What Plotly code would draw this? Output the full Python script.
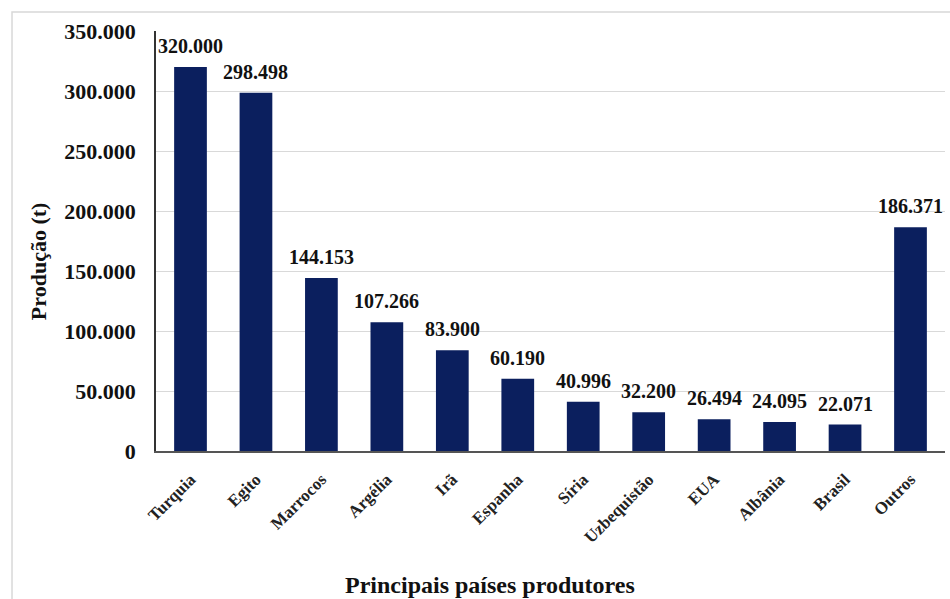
import plotly.graph_objects as go

# Production by main producing country (tonnes)
paises = ["Turquia", "Egito", "Marrocos", "Argélia", "Irã", "Espanha", "Síria",
          "Uzbequistão", "EUA", "Albânia", "Brasil", "Outros"]
producao = [320000, 298498, 144153, 107266, 83900, 60190, 40996,
            32200, 26494, 24095, 22071, 186371]
y_ticks = [0, 50000, 100000, 150000, 200000, 250000, 300000, 350000]

FONT = "Liberation Serif"
NAVY = "#0b1f5e"
INK = "#111111"


def br_number(v):
    """Format an integer with '.' as thousands separator."""
    return f"{v:,}".replace(",", ".")


fig = go.Figure(
    go.Bar(
        x=paises,
        y=producao,
        width=0.5,
        marker=dict(color=NAVY, line=dict(width=0)),
        cliponaxis=False,
    )
)

# value labels sitting a little above each bar
annotations = [
    dict(x=p, y=v, xref="x", yref="y", text=f"<b>{br_number(v)}</b>",
         showarrow=False, xanchor="center", yanchor="bottom", yshift=8,
         font=dict(family=FONT, size=20, color=INK))
    for p, v in zip(paises, producao)
]

# axis titles
annotations += [
    dict(x=0.4233, y=-0.319, xref="paper", yref="paper",
         text="<b>Principais países produtores</b>", showarrow=False,
         xanchor="center", yanchor="middle",
         font=dict(family=FONT, size=24, color=INK)),
    dict(x=-0.1496, y=0.452, xref="paper", yref="paper",
         text="<b>Produção (t)</b>", showarrow=False, textangle=-90,
         xanchor="center", yanchor="middle",
         font=dict(family=FONT, size=22, color=INK)),
]

fig.update_layout(
    width=950,
    height=599,
    margin=dict(l=156, r=5, t=31, b=148),
    paper_bgcolor="white",
    plot_bgcolor="white",
    separators=",.",
    showlegend=False,
    font=dict(family=FONT, color=INK),
    annotations=annotations,
    shapes=[
        dict(type="rect", xref="paper", yref="paper",
             x0=-0.1825, y0=-0.5, x1=1.2, y1=1.045,
             line=dict(color="#d8d8d8", width=1.5), layer="below"),
    ],
)

fig.update_xaxes(
    tickangle=-45,
    tickfont=dict(family=FONT, size=17, color="#222222", weight="bold"),
    showline=True,
    linecolor="#555555",
    linewidth=1.5,
    ticks="outside",
    ticklen=10,
    tickcolor="rgba(0,0,0,0)",
)

fig.update_yaxes(
    range=[0, 350000],
    tickvals=y_ticks,
    tickformat=",d",
    tickfont=dict(family=FONT, size=22, color=INK, weight="bold"),
    ticklabelstandoff=14,
    showgrid=True,
    gridcolor="#d9d9d9",
    gridwidth=1,
    zeroline=False,
    showline=True,
    linecolor="#333333",
    linewidth=1.5,
)

fig.write_html("out.html")
